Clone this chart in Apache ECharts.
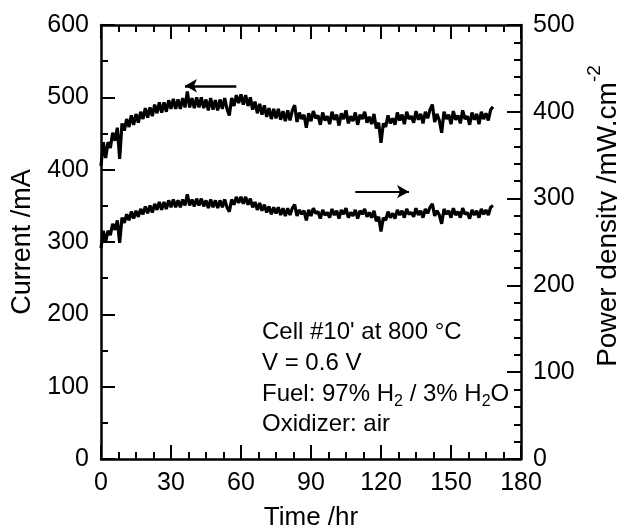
<!DOCTYPE html>
<html><head><meta charset="utf-8">
<script src="https://cdn.jsdelivr.net/npm/echarts@6/dist/echarts.min.js"></script>
<style>html,body{margin:0;padding:0;background:#fff}#c{width:617px;height:529px}</style>
</head><body><div id="c"></div>
<script>
const hours = [0,1,2,3,4,5,6,7,8,9,10,11,12,13,14,15,16,17,18,19,20,21,22,23,24,25,26,27,28,29,30,31,32,33,34,35,36,37,38,39,40,41,42,43,44,45,46,47,48,49,50,51,52,53,54,55,56,57,58,59,60,61,62,63,64,65,66,67,68,69,70,71,72,73,74,75,76,77,78,79,80,81,82,83,84,85,86,87,88,89,90,91,92,93,94,95,96,97,98,99,100,101,102,103,104,105,106,107,108,109,110,111,112,113,114,115,116,117,118,119,120,121,122,123,124,125,126,127,128,129,130,131,132,133,134,135,136,137,138,139,140,141,142,143,144,145,146,147,148,149,150,151,152,153,154,155,156,157,158,159,160,161,162,163,164,165,166,167,168];
const currentMA = [405,438,416,438,430,451,440,458,415,464,454,470,459,475,462,477,465,480,470,485,472,486,474,490,478,493,479,493,480,496,484,498,484,497,484,499,486,508,486,499,485,500,486,500,485,497,482,499,483,496,482,497,484,499,484,475,499,488,503,492,504,490,503,488,500,483,494,478,491,476,489,473,485,470,484,471,484,469,481,467,482,468,482,489,
466,479,470,476,458,478,467,481,471,475,462,479,468,474,463,480,469,476,461,478,470,482,464,474,467,479,462,476,470,480,465,473,463,477,
457,465,437,464,
459,475,464,471,462,479,468,476,463,480,470,474,465,481,469,477,464,480,471,483,490,466,477,468,451,480,470,476,463,481,469,475,464,482,470,474,462,479,469,477,463,480,470,478,468,483,487];
const powerDensity = [243,263,250,263,258,271,264,275,249,278,272,282,275,285,277,286,279,288,282,291,283,292,284,294,287,296,287,296,288,298,290,299,290,298,290,299,292,305,292,299,291,300,292,300,291,298,289,299,290,298,289,298,290,299,290,285,299,293,302,295,302,294,302,293,300,290,296,287,295,286,293,284,291,282,290,283,290,281,289,280,289,281,289,293,
280,287,282,286,275,287,280,289,283,285,277,287,281,284,278,288,281,286,277,287,282,289,278,284,280,287,277,286,282,288,279,284,278,286,
274,279,262,278,
275,285,278,283,277,287,281,286,278,288,282,284,279,289,281,286,278,288,283,290,294,280,286,281,271,288,282,286,278,289,281,285,278,289,282,284,277,287,281,286,278,288,282,287,281,290,292];
const currentArrow = [[58,516],[36,516]];
const powerArrow = [[109,308],[132,308]];
const noteLines = ["Cell #10' at 800 \u00B0C", "V = 0.6 V", "{m|Fuel: 97% H}{s|2}{m| / 3% H}{s|2}{m|O}", "Oxidizer: air"];

const FF = '"Liberation Sans", Arial, Helvetica, sans-serif';
const BLK = '#000';
const chart = echarts.init(document.getElementById('c'));

function xAx(pos, labels) {
  return {
    type: 'value', min: 0, max: 180, interval: 30, position: pos,
    axisLine: { show: true, onZero: false, lineStyle: { color: BLK, width: 2.5 } },
    axisTick: { show: true, inside: true, length: 14, lineStyle: { color: BLK, width: 2 } },
    minorTick: { show: true, splitNumber: 4, length: 7, lineStyle: { color: BLK, width: 2 } },
    axisLabel: { show: labels, fontSize: 25, fontFamily: FF, color: BLK, margin: 12, showMinLabel: true, showMaxLabel: true },
    splitLine: { show: false }, minorSplitLine: { show: false },
    name: labels ? 'Time /hr' : '', nameLocation: 'middle', nameGap: 46,
    nameTextStyle: { fontSize: 26, fontFamily: FF, color: BLK }
  };
}

const option = {
  animation: false,
  backgroundColor: '#fff',
  grid: { left: 101, right: 96, top: 25, bottom: 70, containLabel: false, outerBoundsMode: 'none' },
  xAxis: [xAx('bottom', true), xAx('top', false)],
  yAxis: [
    {
      type: 'value', min: 0, max: 600, interval: 100, position: 'left',
      axisLine: { show: true, onZero: false, lineStyle: { color: BLK, width: 2.5 } },
      axisTick: { show: true, inside: true, length: 14, lineStyle: { color: BLK, width: 2 } },
      minorTick: { show: true, splitNumber: 2, length: 7, lineStyle: { color: BLK, width: 2 } },
      axisLabel: { fontSize: 25, fontFamily: FF, color: BLK, margin: 12, showMinLabel: true, showMaxLabel: true },
      splitLine: { show: false }, minorSplitLine: { show: false },
      name: 'Current /mA', nameLocation: 'middle', nameRotate: 90, nameGap: 63,
      nameTextStyle: { fontSize: 27, fontFamily: FF, color: BLK }
    },
    {
      type: 'value', min: 0, max: 500, interval: 100, position: 'right',
      axisLine: { show: true, onZero: false, lineStyle: { color: BLK, width: 2.5 } },
      axisTick: { show: true, inside: true, length: 14, lineStyle: { color: BLK, width: 2 } },
      minorTick: { show: true, splitNumber: 5, length: 7, lineStyle: { color: BLK, width: 2 } },
      axisLabel: { fontSize: 25, fontFamily: FF, color: BLK, margin: 12, showMinLabel: true, showMaxLabel: true },
      splitLine: { show: false }, minorSplitLine: { show: false },
      name: '{p|Power density /mW.cm}{s|-2}', nameLocation: 'middle', nameRotate: 90, nameGap: 64,
      nameTextStyle: {
        color: BLK,
        rich: {
          p: { fontSize: 28, fontFamily: FF, color: BLK, lineHeight: 37, verticalAlign: 'bottom', padding: [0, 0, 0, 52] },
          s: { fontSize: 19, fontFamily: FF, color: BLK, verticalAlign: 'top' }
        }
      }
    }
  ],
  series: [
    {
      type: 'line', xAxisIndex: 0, yAxisIndex: 0, showSymbol: false, symbol: 'none',
      data: hours.map((h, i) => [h, currentMA[i]]),
      lineStyle: { color: BLK, width: 3.2 },
      markLine: {
        silent: true, symbol: ['none', 'arrow'], symbolSize: [10, 12],
        label: { show: false },
        lineStyle: { color: BLK, width: 2.5, type: 'solid' },
        data: [[{ coord: currentArrow[0] }, { coord: currentArrow[1] }]]
      }
    },
    {
      type: 'line', xAxisIndex: 0, yAxisIndex: 1, showSymbol: false, symbol: 'none',
      data: hours.map((h, i) => [h, powerDensity[i]]),
      lineStyle: { color: BLK, width: 3.2 },
      markLine: {
        silent: true, symbol: ['none', 'arrow'], symbolSize: [10, 12],
        label: { show: false },
        lineStyle: { color: BLK, width: 2, type: 'solid' },
        data: [[{ coord: powerArrow[0] }, { coord: powerArrow[1] }]]
      }
    }
  ],
  graphic: [
    { type: 'text', left: 262, top: 320, style: { text: noteLines[0], fontSize: 24, fontFamily: FF, fill: BLK } },
    { type: 'text', left: 262, top: 351, style: { text: noteLines[1], fontSize: 24, fontFamily: FF, fill: BLK } },
    { type: 'text', left: 262, top: 382, style: { text: noteLines[2], fill: BLK, rich: {
        m: { fontSize: 24, fontFamily: FF, fill: BLK, verticalAlign: 'top' },
        s: { fontSize: 16, fontFamily: FF, fill: BLK, verticalAlign: 'top', padding: [12, 0, 0, 0] } } } },
    { type: 'text', left: 262, top: 412, style: { text: noteLines[3], fontSize: 24, fontFamily: FF, fill: BLK } }
  ]
};
chart.setOption(option);
</script>
</body></html>
